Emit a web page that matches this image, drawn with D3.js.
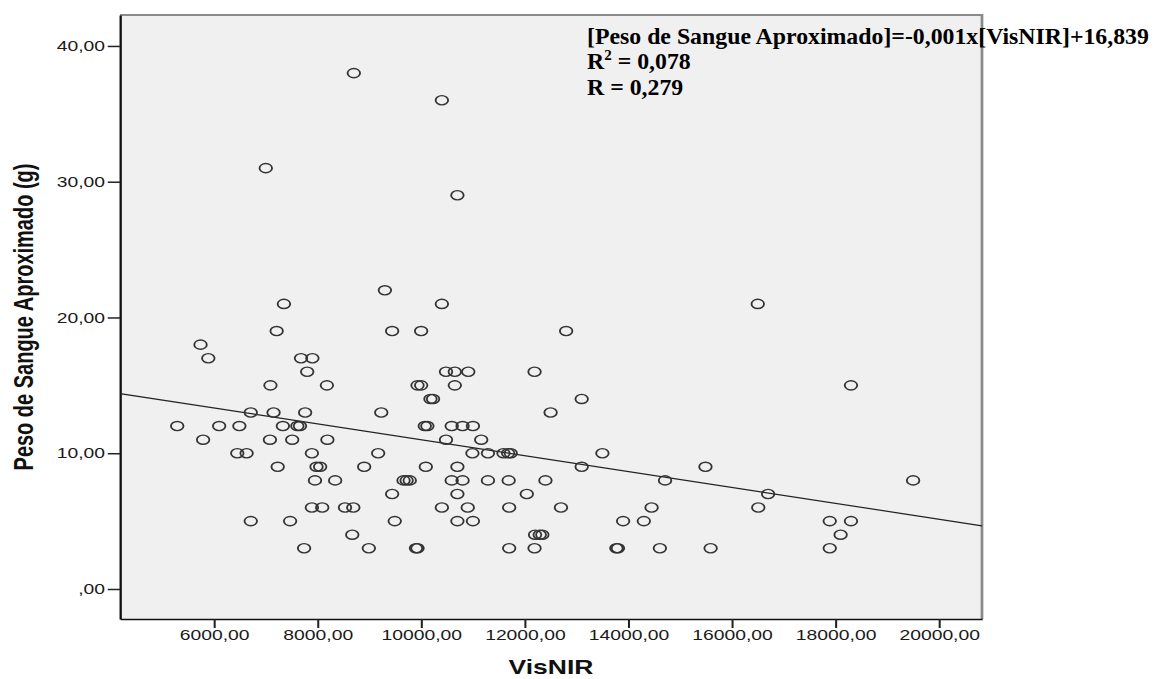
<!DOCTYPE html>
<html>
<head>
<meta charset="UTF-8">
<title>Peso de Sangue Aproximado x VisNIR</title>
<script src="https://d3js.org/d3.v7.min.js"></script>
<style>
	body { margin: 0; background: #fff; }
	svg { display: block; }
</style>
</head>
<body>
<svg id="chart" width="1157" height="679"></svg>
<script type="text/javascript">
	// valores (VisNIR, peso em g), agrupados por nivel de peso
	var visNIR = [
		8700, 10400, 7000, 10700, 9300,
		7350, 10400, 16500,
		7210, 9440, 10000, 12800,
		5740,
		5890, 7680, 7900,
		7800, 10480, 10650, 10910, 12190,
		7090, 8180, 9930, 10000, 10650, 18300,
		10180, 10230, 13100,
		6710, 7150, 7760, 9230, 12500,
		5290, 6100, 6490, 7330, 7610, 7660, 10070, 10120, 10590, 10800, 11000,
		5790, 7080, 7510, 8190, 10480, 11160,
		6450, 6630, 7890, 9170, 10990, 11290, 11590, 11680, 11730, 13500,
		7230, 7980, 8050, 8900, 10090, 10700, 13100, 15490,
		7950, 8340, 9660, 9720, 9780, 10590, 10800, 11290, 11690, 12400, 14710, 19500,
		9440, 10700, 12040, 16700,
		7890, 8090, 8530, 8690, 10400, 10900, 11700, 12700, 14450, 16510,
		6710, 7470, 9490, 10700, 11000, 13900, 14300, 17890, 18300,
		8670, 12200, 12290, 12340, 18100,
		7740, 8990, 9900, 9930, 11700, 12190, 13770, 13800, 14610, 15590, 17890
	];
	var peso = [
		38, 36, 31, 29, 22,
		21, 21, 21,
		19, 19, 19, 19,
		18,
		17, 17, 17,
		16, 16, 16, 16, 16,
		15, 15, 15, 15, 15, 15,
		14, 14, 14,
		13, 13, 13, 13, 13,
		12, 12, 12, 12, 12, 12, 12, 12, 12, 12, 12,
		11, 11, 11, 11, 11, 11,
		10, 10, 10, 10, 10, 10, 10, 10, 10, 10,
		9, 9, 9, 9, 9, 9, 9, 9,
		8, 8, 8, 8, 8, 8, 8, 8, 8, 8, 8, 8,
		7, 7, 7, 7,
		6, 6, 6, 6, 6, 6, 6, 6, 6, 6,
		5, 5, 5, 5, 5, 5, 5, 5, 5,
		4, 4, 4, 4, 4,
		3, 3, 3, 3, 3, 3, 3, 3, 3, 3, 3
	];
	var xTicks = [6000, 8000, 10000, 12000, 14000, 16000, 18000, 20000];
	var yTicks = [0, 10, 20, 30, 40];
	var xDomain = [4185, 20830];
	var yDomain = [-2.21, 42.28];
	var fitIntercept = 16.839;
	var fitSlope = -0.000585;
	var eqLine = "[Peso de Sangue Aproximado]=-0,001x[VisNIR]+16,839";
	var r2Text = "0,078";
	var rText = "0,279";

	(function()
	{
		// o grafico original e esticado na horizontal: desenho em coordenadas "nativas" e escalo o grupo
		var SX = 1.36;
		var pLeft = 120 / SX, pRight = 982 / SX, pTop = 15, pBottom = 619;

		var fmt = function(v)
		{
			var s = d3.format(".2f")(v).replace(".", ",");
			if (s.indexOf("0,") === 0) s = s.slice(1);
			return s;
		};

		var svg = d3.select("#chart");
		var g = svg.append("g").attr("transform", "scale(" + SX + ",1)");

		var x = d3.scaleLinear().domain(xDomain).range([pLeft, pRight]);
		var y = d3.scaleLinear().domain(yDomain).range([pBottom, pTop]);

		// fundo e moldura
		g.append("rect")
			.attr("x", pLeft).attr("y", pTop)
			.attr("width", pRight - pLeft).attr("height", pBottom - pTop)
			.attr("fill", "#f0f0f0");
		g.append("path")
			.attr("d", "M" + pLeft + "," + pTop + "H" + pRight + "V" + pBottom)
			.attr("fill", "none").attr("stroke", "#8a8a8a").attr("stroke-width", 2);

		// eixos
		var xAxis = g.append("g")
			.attr("transform", "translate(0," + pBottom + ")")
			.call(d3.axisBottom(x).tickValues(xTicks).tickFormat(fmt).tickSize(9).tickSizeOuter(0).tickPadding(2));
		var yAxis = g.append("g")
			.attr("transform", "translate(" + pLeft + ",0)")
			.call(d3.axisLeft(y).tickValues(yTicks).tickFormat(fmt).tickSize(9).tickSizeOuter(0).tickPadding(2));

		[xAxis, yAxis].forEach(function(ax)
		{
			ax.select(".domain").attr("stroke", "#111").attr("stroke-width", 1.7);
			ax.selectAll(".tick line").attr("stroke", "#222").attr("stroke-width", 1.5);
			ax.selectAll(".tick text")
				.attr("fill", "#1a1a1a")
				.style("font-family", "'Liberation Sans', Arial, sans-serif")
				.style("font-size", "14.2px");
		});

		// reta de regressao
		g.append("line")
			.attr("x1", x(xDomain[0])).attr("y1", y(fitIntercept + fitSlope * xDomain[0]))
			.attr("x2", x(xDomain[1])).attr("y2", y(fitIntercept + fitSlope * xDomain[1]))
			.attr("stroke", "#222").attr("stroke-width", 1.2);

		// pontos
		g.selectAll("circle.pt")
			.data(d3.range(visNIR.length))
			.enter()
			.append("circle")
			.classed("pt", true)
			.attr("cx", function(i) { return x(visNIR[i]); })
			.attr("cy", function(i) { return y(peso[i]); })
			.attr("r", 4.6)
			.attr("fill", "none")
			.attr("stroke", "#333")
			.attr("stroke-width", 1.35);

		// titulos dos eixos
		g.append("text")
			.attr("transform", "translate(24," + ((pTop + pBottom) / 2) + ") rotate(-90)")
			.attr("text-anchor", "middle")
			.style("font-family", "'Liberation Sans', Arial, sans-serif")
			.style("font-size", "20px")
			.style("font-weight", "bold")
			.attr("fill", "#111")
			.text("Peso de Sangue Aproximado (g)");

		g.append("text")
			.attr("x", (pLeft + pRight) / 2)
			.attr("y", 674)
			.attr("text-anchor", "middle")
			.style("font-family", "'Liberation Sans', Arial, sans-serif")
			.style("font-size", "19.5px")
			.style("font-weight", "bold")
			.attr("fill", "#111")
			.text("VisNIR");

		// equacao (sem esticar)
		var eq = svg.append("g")
			.style("font-family", "'Liberation Serif', 'Times New Roman', serif")
			.style("font-size", "23.8px")
			.style("font-weight", "bold")
			.attr("fill", "#000");
		eq.append("text").attr("x", 587).attr("y", 44).text(eqLine);
		var t2 = eq.append("text").attr("x", 587).attr("y", 69);
		t2.append("tspan").text("R");
		t2.append("tspan").attr("dy", -9).style("font-size", "15px").text("2");
		t2.append("tspan").attr("dy", 9).text(" = " + r2Text);
		eq.append("text").attr("x", 587).attr("y", 95).text("R = " + rText);
	})();
</script>
</body>
</html>
